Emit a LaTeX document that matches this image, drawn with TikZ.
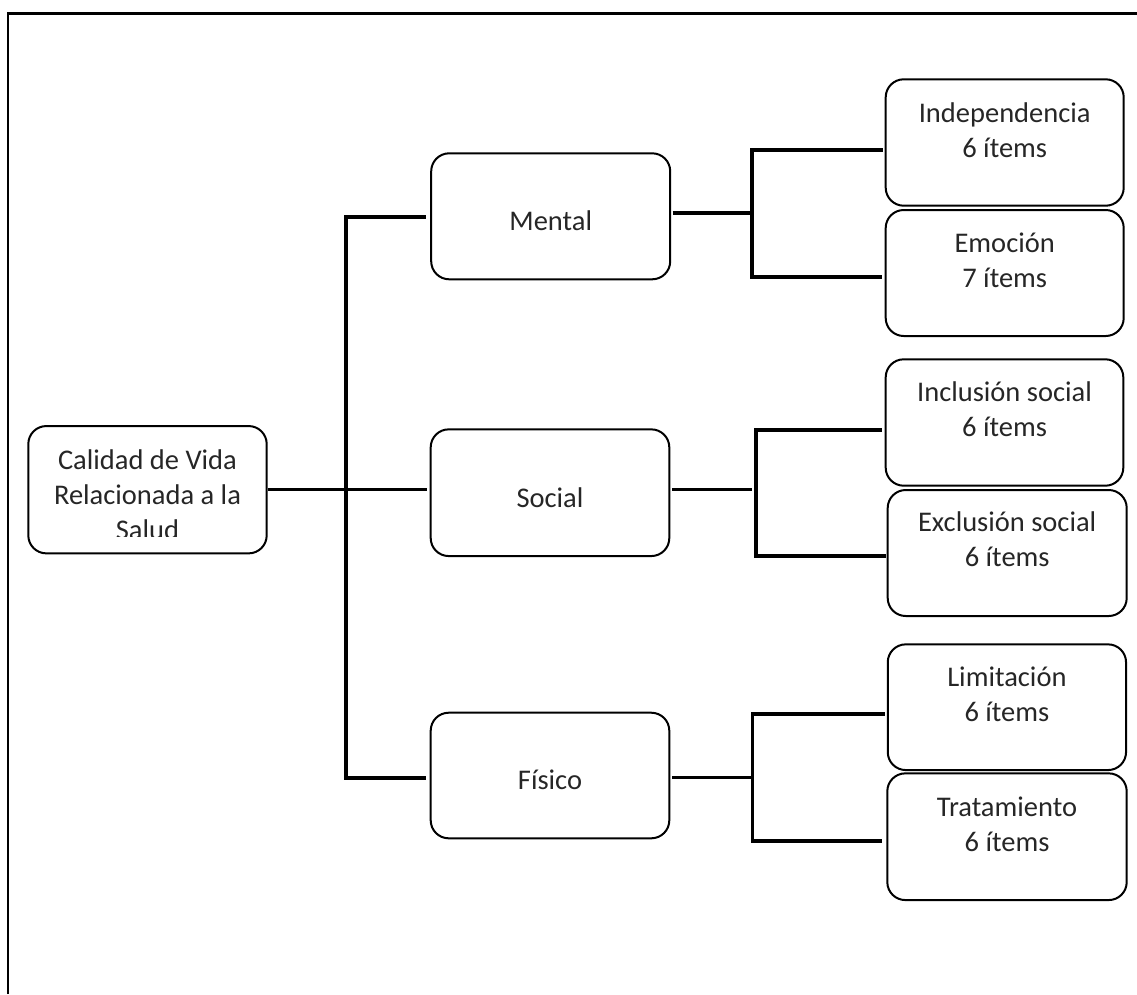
\documentclass[tikz,border=0pt]{standalone}
\usepackage{fontspec}
\setmainfont{Carlito}
\definecolor{txtgray}{HTML}{262626}
\begin{document}
\begin{tikzpicture}[x=1pt,y=-1pt,
  box/.style={draw=black, line width=2pt, rounded corners=18pt, inner sep=0pt},
  lbl/.style={text=txtgray, align=center, inner sep=0pt, font=\fontsize{28.5}{35}\selectfont},
  conn/.style={draw=black, line width=3.4pt},
  frame/.style={draw=black, line width=2.2pt}]
\useasboundingbox (0,0) rectangle (1137,994);
% frame
\coordinate (fb) at (8,994);
\coordinate (ftl) at (8,13.5);
\coordinate (ftr) at (1137,13.5);
\draw[frame] (fb) -- (ftl) -- (ftr);
% boxes
\node[box, minimum width=238.4pt, minimum height=127.3pt] (root) at (147.5,489.7) {};
\node[box, minimum width=239pt, minimum height=126pt] (mental) at (550.7,216.3) {};
\node[box, minimum width=238.6pt, minimum height=126.7pt] (social) at (550,492.7) {};
\node[box, minimum width=238.6pt, minimum height=125.6pt] (fisico) at (550,775.5) {};
\node[box, minimum width=238pt, minimum height=126.4pt] (indep) at (1004.7,142.5) {};
\node[box, minimum width=238pt, minimum height=126pt] (emo) at (1004.7,273) {};
\node[box, minimum width=237.6pt, minimum height=126.4pt] (incl) at (1004.5,422.5) {};
\node[box, minimum width=239pt, minimum height=126pt] (excl) at (1007.2,553) {};
\node[box, minimum width=238.3pt, minimum height=125.7pt] (limi) at (1006.9,707.2) {};
\node[box, minimum width=239.4pt, minimum height=126.7pt] (trat) at (1007,836.7) {};
% labels
\begin{scope}
\clip (0,0) rectangle (1137,536);
\node[lbl] (root-t) at (147.5,497) {\strut Calidad de Vida\\Relacionada a la\\Salud\strut};
\end{scope}
\node[lbl] (mental-t) at (mental.center |- 0,223.7) {\strut Mental\strut};
\node[lbl] (social-t) at (social.center |- 0,500.3) {\strut Social\strut};
\node[lbl] (fisico-t) at (fisico.center |- 0,782.3) {\strut Físico\strut};
\node[lbl] (indep-t) at (indep.center |- 0,132.5) {\strut Independencia\\6 ítems\strut};
\node[lbl] (emo-t) at (emo.center |- 0,262.7) {\strut Emoción\\7 ítems\strut};
\node[lbl] (incl-t) at (incl.center |- 0,412.2) {\strut Inclusión social\\6 ítems\strut};
\node[lbl] (excl-t) at (excl.center |- 0,542.3) {\strut Exclusión social\\6 ítems\strut};
\node[lbl] (limi-t) at (limi.center |- 0,697.2) {\strut Limitación\\6 ítems\strut};
\node[lbl] (trat-t) at (trat.center |- 0,827.2) {\strut Tratamiento\\6 ítems\strut};
% trunk from root
\coordinate (tA) at (346,217);
\coordinate (tB) at (346,778);
\coordinate (tS) at (427,489.5);
\draw[conn] (tA) -- (tB);
\draw[conn] (root.east |- tS) -- (tS);
\draw[conn] ([xshift=-1.7pt]tA) -- ([xshift=-4pt]mental.west |- tA);
\draw[conn] ([xshift=-1.7pt]tB) -- ([xshift=-4pt]fisico.west |- tB);
% mental group
\coordinate (mA) at (752,150);
\coordinate (mB) at (752,277);
\coordinate (mC) at (752,213);
\draw[conn] ([xshift=1.5pt]mental.east |- mC) -- (mC);
\draw[conn] (mA) -- (mB);
\draw[conn] ([xshift=-1.7pt]mA) -- ([xshift=-2pt]indep.west |- mA);
\draw[conn] ([xshift=-1.7pt]mB) -- ([xshift=-3pt]emo.west |- mB);
% social group
\coordinate (sA) at (756,430);
\coordinate (sB) at (756,556);
\coordinate (sC) at (752,489.5);
\draw[conn] ([xshift=2pt]social.east |- sC) -- (sC);
\draw[conn] (sA) -- (sB);
\draw[conn] ([xshift=-1.7pt]sA) -- ([xshift=-2.5pt]incl.west |- sA);
\draw[conn] ([xshift=-1.7pt]sB) -- ([xshift=-0.5pt]excl.west |- sB);
% fisico group
\coordinate (fA) at (752.7,714);
\coordinate (fB) at (752.7,841);
\coordinate (fC) at (752.7,777.5);
\draw[conn] ([xshift=2pt]fisico.east |- fC) -- (fC);
\draw[conn] (fA) -- (fB);
\draw[conn] ([xshift=-1.7pt]fA) -- ([xshift=-1.5pt]limi.west |- fA);
\draw[conn] ([xshift=-1.7pt]fB) -- ([xshift=-4pt]trat.west |- fB);
\end{tikzpicture}
\end{document}
